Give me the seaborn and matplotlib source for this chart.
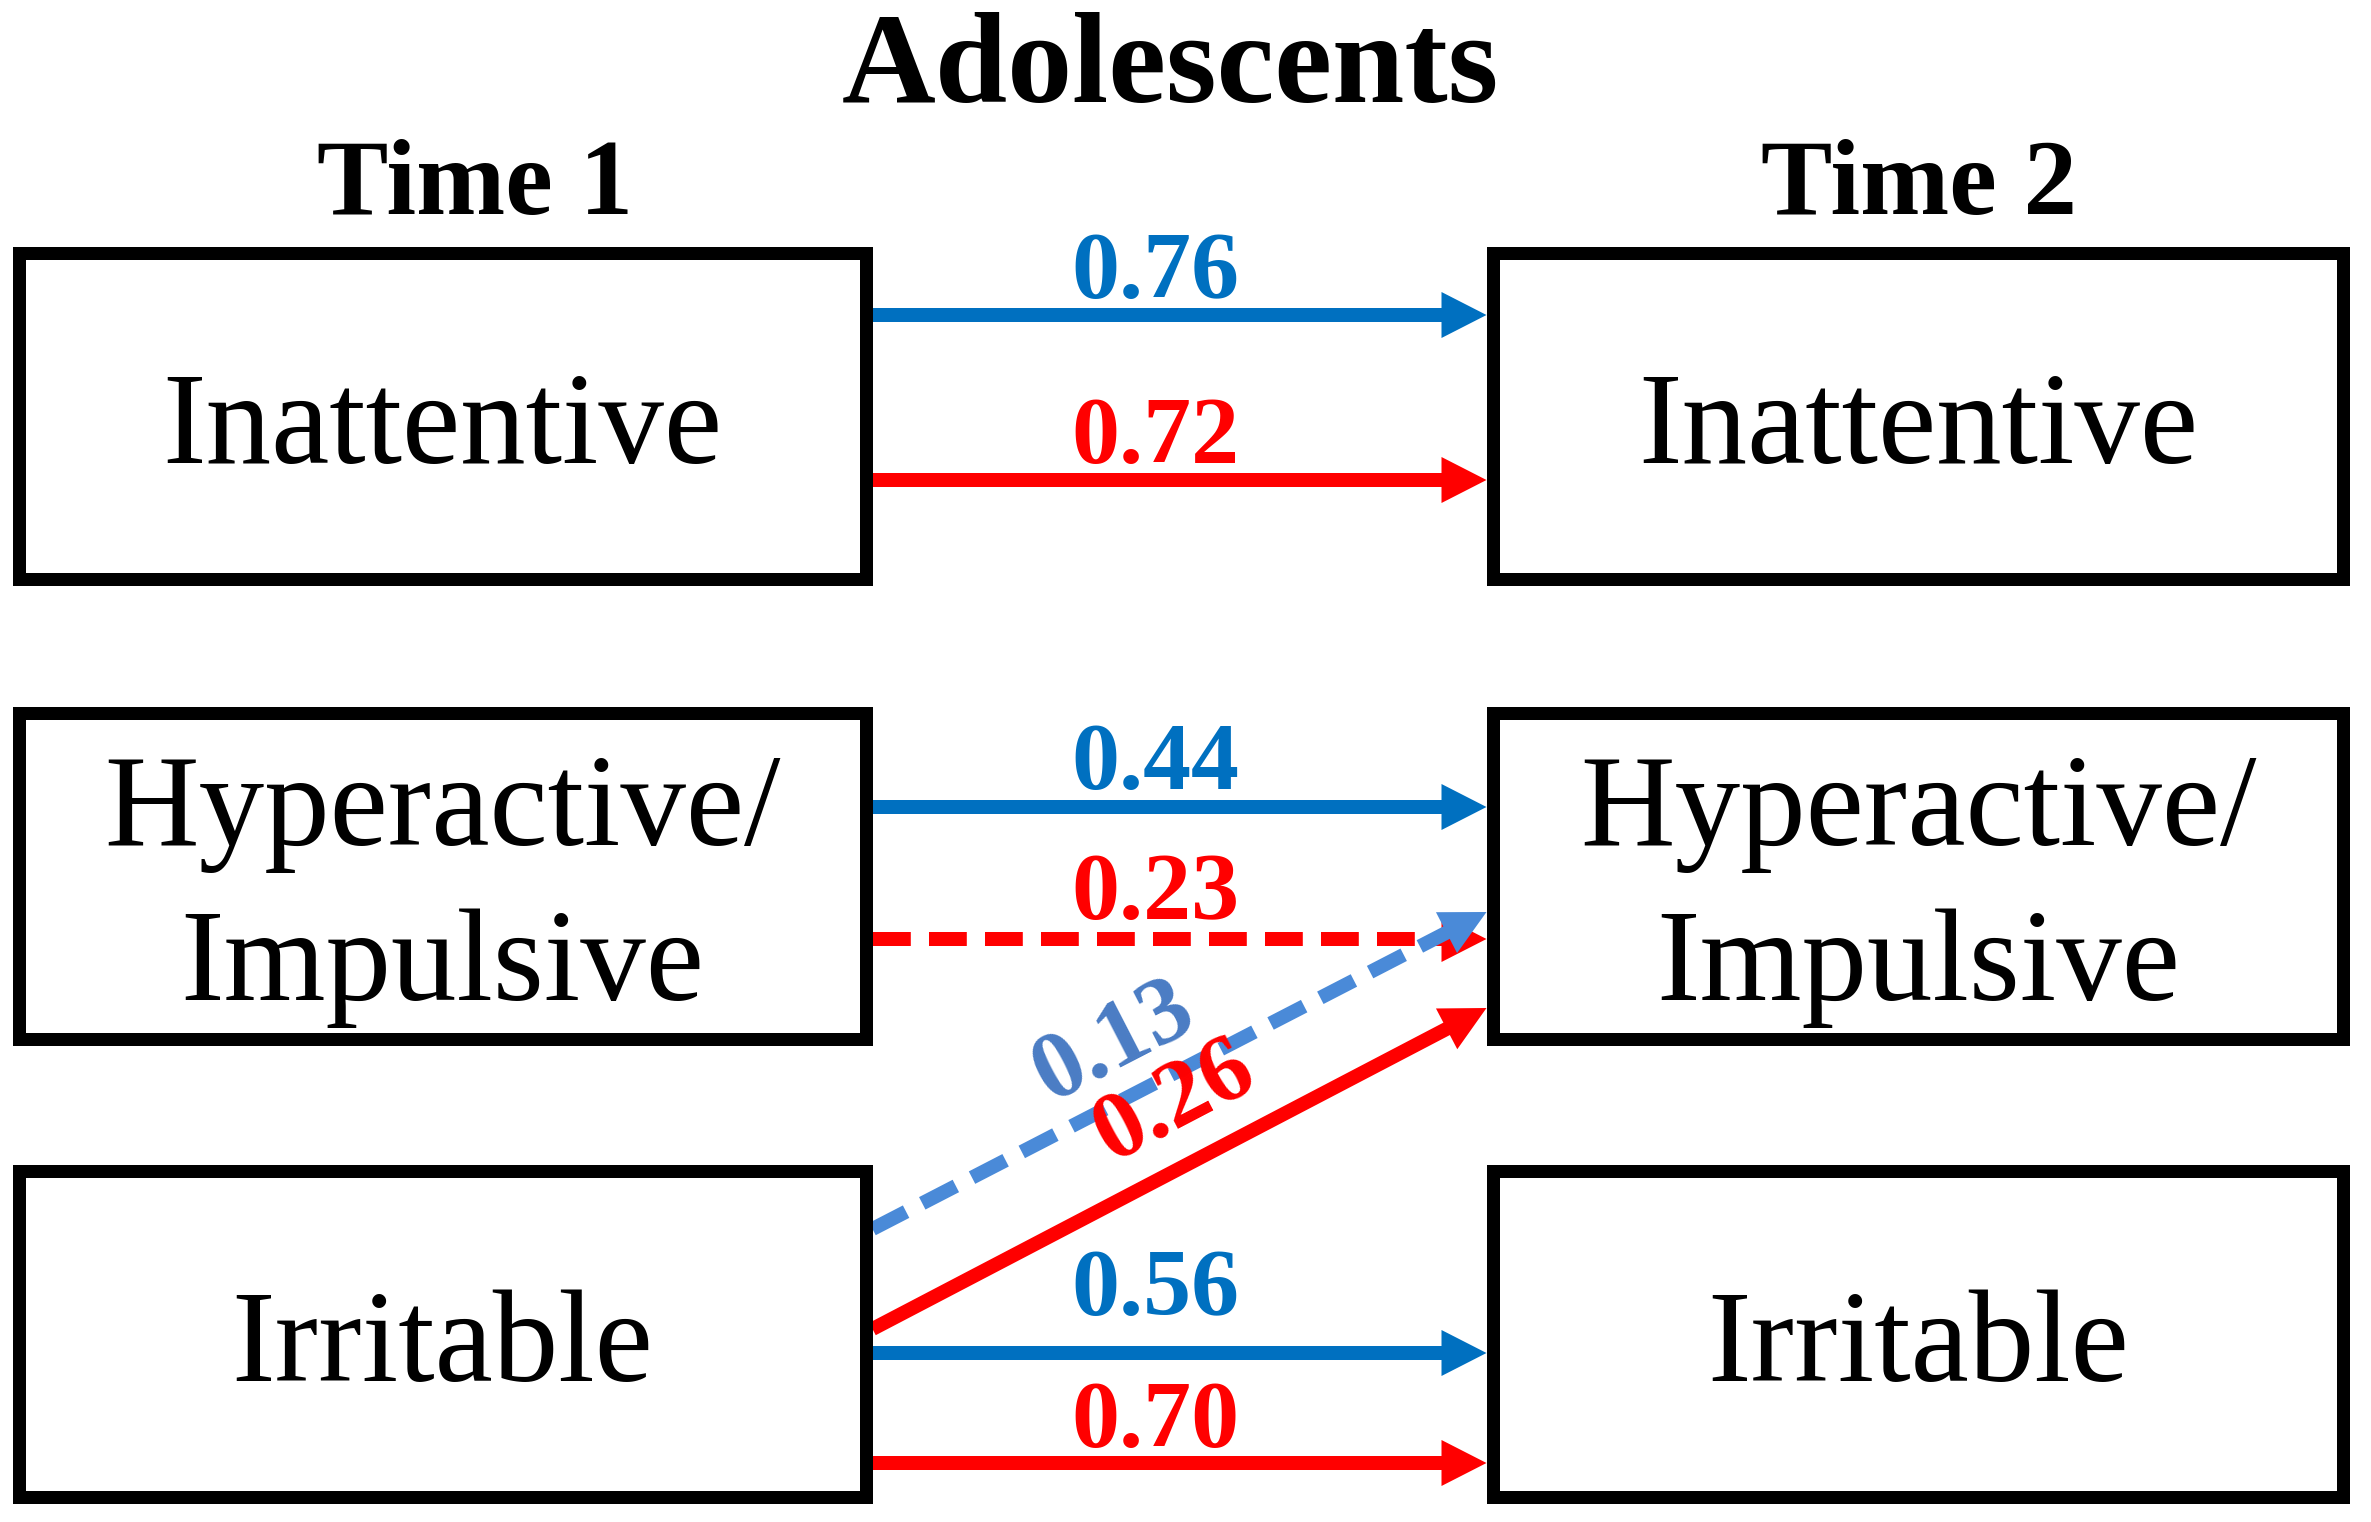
import numpy as np
import matplotlib
matplotlib.use('Agg')
import matplotlib.pyplot as plt
from matplotlib.patches import Rectangle, Polygon
import seaborn as sns

sns.set_theme(style='white')
plt.rcParams['font.family'] = ['Liberation Serif', 'DejaVu Serif']
plt.rcParams['text.color'] = 'black'

# --- data ---
title = 'Adolescents'
time_labels = ['Time 1', 'Time 2']
nodes = ['Inattentive', 'Hyperactive/\nImpulsive', 'Irritable']

coefs = [0.76, 0.72, 0.44, 0.23, 0.13, 0.26, 0.56, 0.70]
src = [0, 0, 1, 1, 2, 2, 2, 2]
dst = [0, 0, 1, 1, 1, 1, 2, 2]
group = ['blue', 'red', 'blue', 'red', 'lightblue', 'red', 'blue', 'red']
significant = [True, True, True, False, False, True, True, True]

# --- layout (pixels, y from top) ---
W, H = 2371, 1522
col_x = [(19, 866), (1493, 2343)]
header_x = [475, 1919]
row_top = [253, 713, 1171]
box_h = 326
box_lw = 13

# arrow attach offsets inside boxes (start, end) measured from box top
attach = [(62, 62), (227, 227), (94, 94), (226, 226),
          (58, 199), (158, 295), (182, 182), (292, 292)]
# label position along arrow and its lift above the line
label_t = [0.46, 0.46, 0.46, 0.46, 0.41, 0.51, 0.46, 0.46]
label_lift = [17, 17, 18, 20, 35, 42, 38, 16]

colors = {'blue': '#0070C0', 'red': '#FF0000', 'lightblue': '#4A8AD8'}
text_colors = {'blue': '#0070C0', 'red': '#FF0000', 'lightblue': '#4A7CC4'}

px = 72 / 100  # points per pixel at dpi 100

fig = plt.figure(figsize=(W / 100, H / 100), dpi=100)
ax = fig.add_axes([0, 0, 1, 1])
ax.set_xlim(0, W)
ax.set_ylim(H, 0)
ax.axis('off')

# title and column headers
ax.text(1170, 102, title, ha='center', va='baseline', fontsize=130 * px,
        fontweight='bold', color='black')
for hx, lab in zip(header_x, time_labels):
    ax.text(hx, 214, lab, ha='center', va='baseline', fontsize=107 * px,
            fontweight='bold', color='black')

# boxes with labels
node_size = 131
for (x0, x1) in col_x:
    for top, name in zip(row_top, nodes):
        ax.add_patch(Rectangle((x0, top), x1 - x0, box_h, fill=False,
                               ec='black', lw=box_lw * px, joinstyle='miter',
                               zorder=3))
        lines = name.split('\n')
        cy = top + box_h / 2
        n = len(lines)
        for i, ln in enumerate(lines):
            base = cy + 0.68 * node_size / 2 + 2 + (i - (n - 1) / 2) * 155
            ax.text((x0 + x1) / 2, base, ln, ha='center', va='baseline',
                    fontsize=node_size * px, color='black', zorder=4)

# arrows
x_start = col_x[0][1] + box_lw / 2
x_end = col_x[1][0] - box_lw / 2
head_len, head_half = 45, 23
line_w = 14

for k in range(len(coefs)):
    y0 = row_top[src[k]] + attach[k][0]
    y1 = row_top[dst[k]] + attach[k][1]
    p0 = np.array([x_start, y0])
    p1 = np.array([x_end, y1])
    d = p1 - p0
    u = d / np.hypot(*d)
    nrm = np.array([-u[1], u[0]])
    base = p1 - head_len * u
    c = colors[group[k]]
    ls = '-' if significant[k] else (0, (2.7, 1.3))
    ax.plot([p0[0], base[0] + 2 * u[0]], [p0[1], base[1] + 2 * u[1]],
            color=c, lw=line_w * px, ls=ls, solid_capstyle='butt',
            dash_capstyle='butt', zorder=2)
    ax.add_patch(Polygon([p1, base + head_half * nrm, base - head_half * nrm],
                         closed=True, fc=c, ec='none', zorder=2))
    # label
    lp = p0 + label_t[k] * d
    ang = np.degrees(np.arctan2(-(d[1]), d[0]))
    ax.text(lp[0], lp[1] - label_lift[k], f'{coefs[k]:.2f}',
            ha='center', va='baseline', rotation=ang, rotation_mode='anchor',
            fontsize=96 * px, fontweight='bold',
            color=text_colors[group[k]], zorder=5)

fig.savefig('out.png', dpi=100, facecolor='white')
